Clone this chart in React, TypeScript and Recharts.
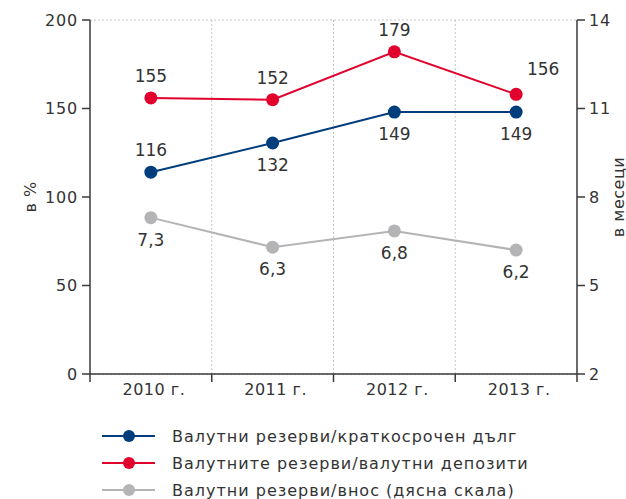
import { LineChart, Line, XAxis, YAxis, CartesianGrid, LabelList } from "recharts";

const CATEGORIES = ["2010 г.", "2011 г.", "2012 г.", "2013 г."];
const DEBT_RATIO = [114, 130.5, 148, 148];
const DEBT_LABELS = ["116", "132", "149", "149"];
const DEPOSIT_RATIO = [156, 155, 182, 158];
const DEPOSIT_LABELS = ["155", "152", "179", "156"];
const IMPORT_MONTHS = [7.3, 6.3, 6.85, 6.2];
const IMPORT_LABELS = ["7,3", "6,3", "6,8", "6,2"];
const LEFT_TICKS = [0, 50, 100, 150, 200];
const RIGHT_TICKS = [2, 5, 8, 11, 14];

const SERIES = [
  { key: "debt", name: "Валутни резерви/краткосрочен дълг", color: "#003d7c" },
  { key: "deposits", name: "Валутните резерви/валутни депозити", color: "#e2002d" },
  { key: "imports", name: "Валутни резерви/внос (дясна скала)", color: "#b4b4b6" },
];

const FONT = "'DejaVu Sans', sans-serif";
const TEXT = "#333";
const AXIS = "#3a3a3a";

const W = 626;
const CH = 410;
const PLOT_LEFT = 90;
const PLOT_RIGHT = 577;
const PLOT_TOP = 20;
const PLOT_BOTTOM = 374;
const BAND = (PLOT_RIGHT - PLOT_LEFT) / CATEGORIES.length;

const data = CATEGORIES.map((year, i) => ({
  year,
  debt: DEBT_RATIO[i],
  deposits: DEPOSIT_RATIO[i],
  imports: IMPORT_MONTHS[i],
}));

function YearTick(props: any) {
  const { x, y, payload, index } = props;
  const axisY = y - 10;
  const half = BAND / 2;
  return (
    <g>
      <line x1={x - half} x2={x - half} y1={axisY} y2={axisY + 8} stroke={AXIS} strokeWidth={1.5} />
      {index === CATEGORIES.length - 1 && (
        <line x1={x + half} x2={x + half} y1={axisY} y2={axisY + 8} stroke={AXIS} strokeWidth={1.5} />
      )}
      <text
        x={x + 3}
        y={y}
        dy="0.71em"
        textAnchor="middle"
        fill={TEXT}
        fontSize={16}
        fontFamily={FONT}
        letterSpacing={0.5}
      >
        {payload.value}
      </text>
    </g>
  );
}

// where each value label sits relative to its dot
const placed = (texts: string[], places: string[]) => (props: any) => {
  const { x, y, index } = props;
  const p = places[index];
  let dx = 0;
  let dy = 0;
  if (p === "above") dy = -22;
  else if (p === "below") dy = 22;
  else {
    dx = 27;
    dy = -25;
  }
  return (
    <text
      x={x + dx}
      y={y + dy}
      textAnchor="middle"
      dominantBaseline="central"
      fill={TEXT}
      fontSize={17}
      fontFamily={FONT}
    >
      {texts[index]}
    </text>
  );
};

function AxisTitle({ text, cx }: { text: string; cx: number }) {
  const cy = (PLOT_TOP + PLOT_BOTTOM) / 2;
  return (
    <text
      x={cx}
      y={cy}
      transform={`rotate(-90 ${cx} ${cy})`}
      textAnchor="middle"
      dominantBaseline="central"
      fill={TEXT}
      fontSize={16}
      fontFamily={FONT}
      letterSpacing={0.5}
    >
      {text}
    </text>
  );
}

const tickStyle = { fill: TEXT, fontSize: 16, fontFamily: FONT, letterSpacing: 0.8 };

export default function App() {
  return (
    <div style={{ position: "relative", width: W, height: 499, background: "#fff" }}>
      <style>{`body{margin:0}`}</style>
      <LineChart width={W} height={CH} data={data} margin={{ top: PLOT_TOP, right: 0, left: 0, bottom: CH - PLOT_BOTTOM - 30 }}>
        <CartesianGrid
          stroke="#c6c6c6"
          strokeDasharray="2 2"
          verticalCoordinatesGenerator={({ offset }: any) =>
            CATEGORIES.slice(1).map((_, i) => offset.left + (i + 1) * (offset.width / CATEGORIES.length))
          }
        />
        <XAxis
          dataKey="year"
          height={30}
          interval={0}
          padding={{ left: BAND / 2, right: BAND / 2 }}
          tickLine={false}
          tickSize={8}
          tickMargin={2}
          axisLine={{ stroke: AXIS, strokeWidth: 1.5 }}
          tick={<YearTick />}
        />
        <YAxis
          yAxisId="left"
          width={PLOT_LEFT}
          domain={[0, 200]}
          ticks={LEFT_TICKS}
          tickSize={8}
          tickMargin={4}
          axisLine={{ stroke: AXIS, strokeWidth: 1.5 }}
          tickLine={{ stroke: AXIS, strokeWidth: 1.5 }}
          tick={tickStyle}
          label={<AxisTitle text="в %" cx={30} />}
        />
        <YAxis
          yAxisId="right"
          orientation="right"
          width={W - PLOT_RIGHT}
          domain={[2, 14]}
          ticks={RIGHT_TICKS}
          tickSize={8}
          tickMargin={4}
          axisLine={{ stroke: AXIS, strokeWidth: 1.5 }}
          tickLine={{ stroke: AXIS, strokeWidth: 1.5 }}
          tick={{ ...tickStyle, textAnchor: "start" }}
          label={<AxisTitle text="в месеци" cx={618} />}
        />
        <Line
          yAxisId="right"
          dataKey="imports"
          stroke={SERIES[2].color}
          strokeWidth={2}
          dot={{ r: 6.5, fill: SERIES[2].color, stroke: SERIES[2].color, strokeWidth: 0 }}
          activeDot={false}
          isAnimationActive={false}
        >
          <LabelList dataKey="imports" content={placed(IMPORT_LABELS, ["below", "below", "below", "below"])} />
        </Line>
        <Line
          yAxisId="left"
          dataKey="debt"
          stroke={SERIES[0].color}
          strokeWidth={2}
          dot={{ r: 6.5, fill: SERIES[0].color, stroke: SERIES[0].color, strokeWidth: 0 }}
          activeDot={false}
          isAnimationActive={false}
        >
          <LabelList dataKey="debt" content={placed(DEBT_LABELS, ["above", "below", "below", "below"])} />
        </Line>
        <Line
          yAxisId="left"
          dataKey="deposits"
          stroke={SERIES[1].color}
          strokeWidth={2}
          dot={{ r: 6.5, fill: SERIES[1].color, stroke: SERIES[1].color, strokeWidth: 0 }}
          activeDot={false}
          isAnimationActive={false}
        >
          <LabelList dataKey="deposits" content={placed(DEPOSIT_LABELS, ["above", "above", "above", "right"])} />
        </Line>
      </LineChart>
      <svg width={W} height={499 - CH} style={{ position: "absolute", left: 0, top: CH }}>
        {SERIES.map((s, i) => {
          const cy = 26 + i * 27;
          return (
            <g key={s.key}>
              <line x1={102} x2={155} y1={cy} y2={cy} stroke={s.color} strokeWidth={2} />
              <circle cx={129} cy={cy} r={6} fill={s.color} />
              <text
                x={172}
                y={cy}
                dominantBaseline="central"
                fill={TEXT}
                fontSize={16}
                fontFamily={FONT}
                letterSpacing={1}
              >
                {s.name}
              </text>
            </g>
          );
        })}
      </svg>
    </div>
  );
}
